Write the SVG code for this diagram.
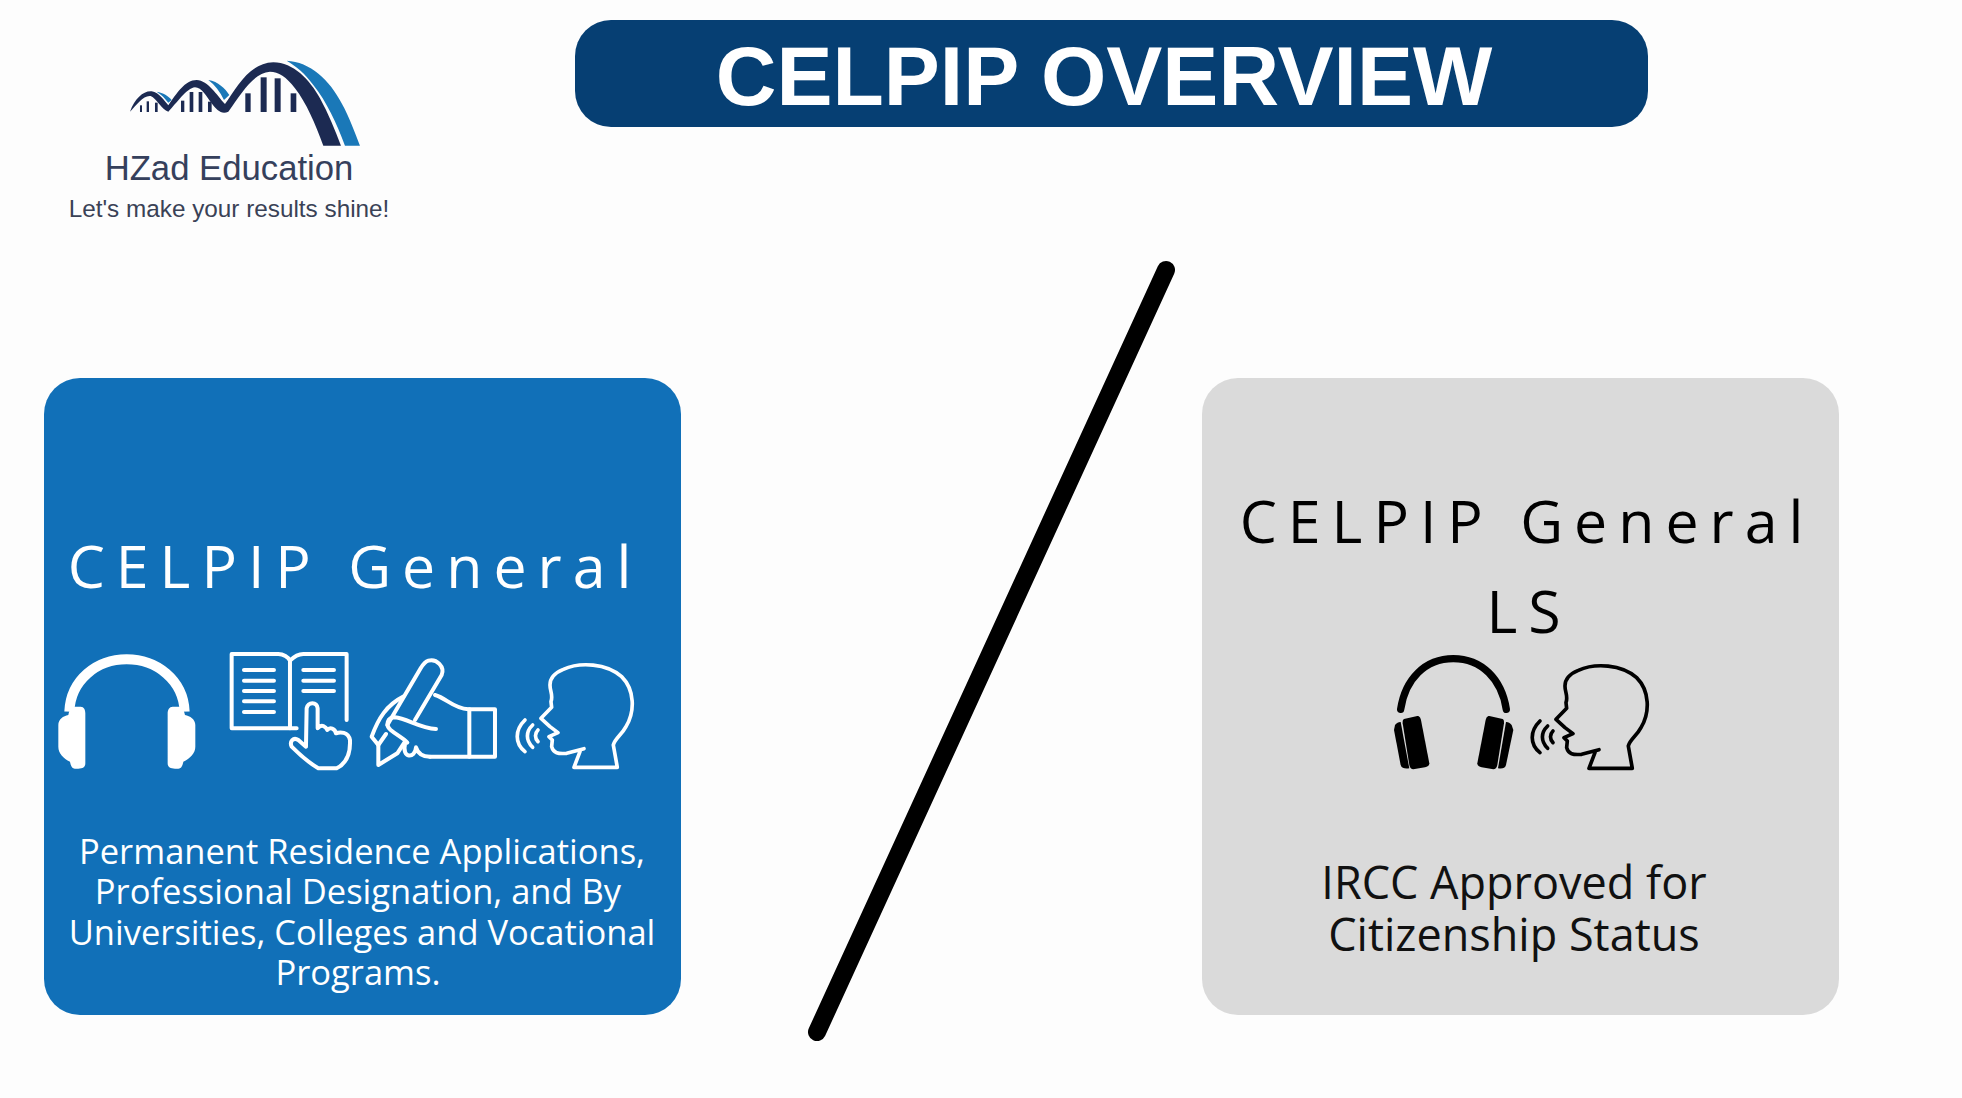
<svg xmlns="http://www.w3.org/2000/svg" width="1962" height="1098" viewBox="0 0 1962 1098">
<style>
.t{font-family:"Open Sans","Noto Sans",sans-serif;text-anchor:middle}
.h{font-size:59px;letter-spacing:11px;font-weight:500}
.ln{fill:none;stroke-width:12;stroke-linecap:round;stroke-linejoin:round}
.w{stroke:#fff}
.k{stroke:#000}
</style>
<defs>
<g id="head" fill="none" stroke-width="11" stroke-linecap="round" stroke-linejoin="round">
<path d="M690,365 L672,412 H802 L790,345 C795,325 815,315 828,290 C855,245 855,180 815,140 C770,100 690,95 640,118 C610,130 600,145 600,165 C600,185 610,195 603,215 L605,232 L573,265 L600,290 L624,308 L597,320 L607,330 L605,350 C610,370 625,372 650,370 L702,356"/>
<path d="M525,270 C494,300 494,340 525,365"/>
<path d="M548,285 C527,305 527,330 548,352"/>
<path d="M564,300 C554,310 554,325 564,335"/>
</g>
</defs>
<rect width="1962" height="1098" fill="#fdfdfd"/>
<g id="logo">
<g transform="translate(40,30) scale(.3333)">
<path d="M740,92 C810,95 870,150 905,220 C930,265 945,310 960,347 H915 C890,280 860,215 820,165 C795,130 770,110 740,92Z" fill="#1a78b8"/>
<path d="M505,150 C535,155 555,175 568,195 L552,210 C540,185 525,165 505,150Z" fill="#1a78b8"/>
<path d="M350,185 C370,188 385,198 395,210 L385,218 C375,205 365,195 350,185Z" fill="#1a78b8"/>
<path d="M270,245 C285,205 310,182 335,184 C358,188 372,212 385,226 C410,190 435,150 470,150 C505,152 530,195 555,222 C590,175 625,100 700,97 C760,97 810,150 840,205 C865,250 885,300 903,347 H850 C825,280 800,220 765,175 C740,140 715,125 690,125 C640,128 605,190 565,245 C545,255 530,240 515,220 C500,200 485,172 465,172 C440,174 410,220 385,245 C365,240 350,205 332,198 C310,195 290,225 270,245Z" fill="#1c2a52"/>
<g fill="#1c2a52">
<rect x="300" y="226" width="6" height="20"/><rect x="320" y="214" width="7" height="32"/><rect x="345" y="218" width="8" height="28"/>
<rect x="423" y="212" width="10" height="34"/><rect x="449" y="186" width="11" height="60"/><rect x="476" y="186" width="11" height="60"/><rect x="504" y="215" width="11" height="31"/>
<rect x="616" y="190" width="16" height="56"/><rect x="662" y="142" width="18" height="104"/><rect x="704" y="145" width="18" height="101"/><rect x="752" y="190" width="17" height="56"/>
</g>
</g>
<text x="229" y="180" font-family="Liberation Sans, Arial, sans-serif" font-size="34.7" fill="#35405c" text-anchor="middle">HZad Education</text>
<text x="229" y="217" font-family="Liberation Sans, Arial, sans-serif" font-size="24.3" fill="#3a4256" text-anchor="middle">Let's make your results shine!</text>
</g>
<g id="title">
<rect x="575" y="20" width="1073" height="107" rx="36" fill="#063f73"/>
<text x="1104" y="105" font-family="Liberation Sans, Arial, sans-serif" font-weight="700" font-size="84" fill="#fff" text-anchor="middle">CELPIP OVERVIEW</text>
</g>
<g id="card-general">
<rect x="44" y="378" width="637" height="637" rx="36" fill="#1170b8"/>
<text class="t h" x="355" y="588" fill="#fff">CELPIP General</text>
<g id="icon-headphones-white" transform="translate(40,630) scale(.3333)" fill="#fff">
<path d="M88,245 C92,150 170,88 260,88 C350,88 430,150 434,245" fill="none" stroke="#fff" stroke-width="30"/>
<path d="M102,230 H122 C132,230 136,240 136,250 V400 C136,412 128,416 115,416 H105 C95,416 92,405 90,395 C70,385 55,370 55,350 V285 C55,268 70,258 85,255 C88,240 92,232 102,230Z"/>
<path d="M418,230 H398 C388,230 383,240 383,250 V400 C383,412 392,416 405,416 H415 C425,416 428,405 430,395 C450,385 466,370 466,350 V285 C466,268 450,258 435,255 C432,240 428,232 418,230Z"/>
</g>
<g id="icon-book" transform="translate(40,630) scale(.3333)">
<path d="M770,295 H575 V72 H715 C730,72 745,82 750,92 C760,82 775,72 790,72 H920 V270" class="ln w"/>
<path d="M750,92 V295" class="ln w"/>
<path d="M612,120 H702 M612,152 H702 M612,183 H702 M612,214 H702 M612,246 H702 M790,120 H882 M790,152 H882 M790,183 H882" class="ln w"/>
<path d="M800,235 C805,215 830,215 833,235 V295 C845,280 858,290 862,300 C870,290 885,295 888,310 C900,305 925,305 930,330 C932,370 920,400 890,415 H835 C810,400 780,375 755,350 C748,335 760,320 775,330 L798,350 Z" class="ln w" fill="#1170b8"/>
</g>
<g id="icon-pen" transform="translate(350,630) scale(.3333)">
<path d="M195,270 L275,135 C285,110 260,85 235,92 C225,95 218,105 212,115 L112,285" class="ln w"/>
<path d="M160,200 C110,225 85,265 65,320 L85,345" class="ln w"/>
<path d="M108,312 L85,345 L85,405 L142,370 L165,335" class="ln w"/>
<path d="M258,297 C210,295 170,265 135,262 C112,262 105,285 122,300 C140,315 160,325 172,338" class="ln w"/>
<path d="M255,195 C290,205 310,235 355,238 H435 V380 H240" class="ln w"/>
<path d="M358,238 V380" class="ln w"/>
<path d="M165,342 C155,385 195,388 198,352 C205,375 222,380 240,380" class="ln w"/>
</g>
<use href="#head" stroke="#fff" transform="translate(350,630) scale(.3333)"/>
<text class="t" font-size="34.5" fill="#fff"><tspan x="362" y="864">Permanent Residence Applications,</tspan><tspan x="358" y="904">Professional Designation, and By</tspan><tspan x="362" y="945">Universities, Colleges and Vocational</tspan><tspan x="358" y="985">Programs.</tspan></text>
</g>
<g id="card-ls">
<rect x="1202" y="378" width="637" height="637" rx="36" fill="#dadada"/>
<text class="t h" x="1527" y="543" fill="#000">CELPIP General</text>
<text class="t h" x="1529" y="633" fill="#000">LS</text>
<g id="icon-headphones-black" transform="translate(1370,640) scale(.3333)" fill="#000">
<path d="M92,208 C105,118 165,56 250,56 C335,56 395,118 409,208" fill="none" stroke="#000" stroke-width="22" stroke-linecap="round"/>
<path d="M102,237 L142,228 C150,228 152,235 154,245 L178,370 C178,378 172,380 165,382 L130,388 C124,388 120,384 118,375 L98,250 C98,243 98,239 102,237Z"/>
<path d="M75,255 C80,248 88,245 92,246 L118,385 C105,387 95,385 92,375 L72,270Z"/>
<path d="M398,237 L358,228 C350,228 348,235 346,245 L322,370 C322,378 328,380 335,382 L370,388 C376,388 380,384 382,375 L402,250 C402,243 402,239 398,237Z"/>
<path d="M425,255 C420,248 412,245 408,246 L384,385 C397,387 405,385 408,375 L430,270Z"/>
</g>
<use href="#head" stroke="#000" transform="translate(1365,631) scale(.3333)"/>
<text class="t" font-size="45" fill="#111"><tspan x="1514" y="899">IRCC Approved for</tspan><tspan x="1514" y="951">Citizenship Status</tspan></text>
</g>
<g id="connectors">
<line x1="1166" y1="270" x2="817" y2="1032" stroke="#000" stroke-width="18" stroke-linecap="round"/>
</g>
</svg>
